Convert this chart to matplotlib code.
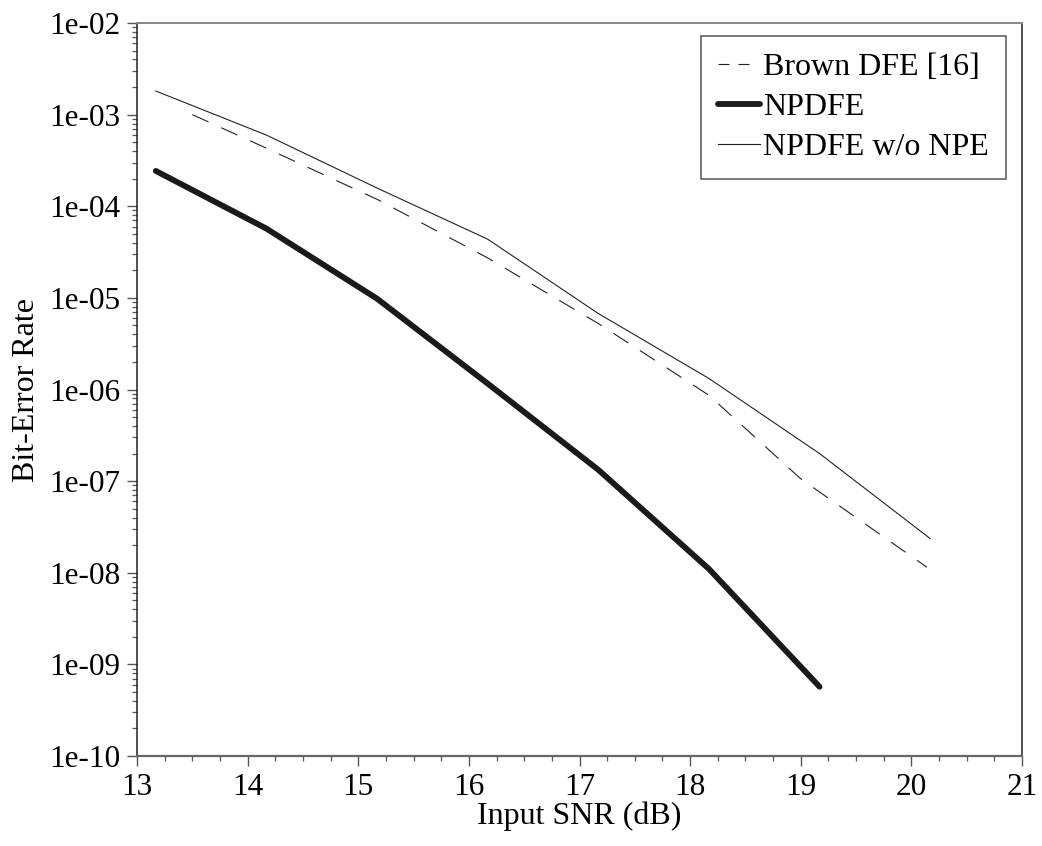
import matplotlib
matplotlib.use("Agg")
import matplotlib.pyplot as plt
from matplotlib.lines import Line2D
from matplotlib.ticker import MultipleLocator, LogLocator, FuncFormatter, NullFormatter

plt.rcParams['font.family'] = ['Liberation Serif', 'DejaVu Serif']
plt.rcParams['font.size'] = 23

# Input SNR (dB) and bit-error rate for each receiver
snr_brown = [13.5, 14.17, 15.17, 16.17, 17.17, 18.17, 19.0, 20.14]
ber_brown = [1.0e-3, 4.3e-4, 1.19e-4, 2.73e-5, 5.25e-6, 8.65e-7, 1.06e-7, 1.15e-8]

snr_npdfe = [13.17, 14.17, 15.17, 16.17, 17.17, 18.17, 19.17]
ber_npdfe = [2.43e-4, 5.7e-5, 9.8e-6, 1.16e-6, 1.33e-7, 1.1e-8, 5.7e-10]

snr_nonpe = [13.17, 14.17, 15.17, 16.17, 17.17, 18.17, 19.17, 20.17]
ber_nonpe = [1.81e-3, 5.98e-4, 1.58e-4, 4.37e-5, 6.75e-6, 1.32e-6, 2.0e-7, 2.36e-8]

labels = ["Brown DFE [16]", "NPDFE", "NPDFE w/o NPE"]
x_ticks = [13, 14, 15, 16, 17, 18, 19, 20, 21]
y_ticks = [1e-2, 1e-3, 1e-4, 1e-5, 1e-6, 1e-7, 1e-8, 1e-9, 1e-10]

W, H = 1042, 846
fig = plt.figure(figsize=(W / 100, H / 100), dpi=100)
ax = fig.add_axes([137 / W, 1 - 756 / H, (1022 - 137) / W, (756 - 23) / H])

ax.plot(snr_brown, ber_brown, color='#222222', lw=0.8, dashes=(16, 12.5))
ax.plot(snr_npdfe, ber_npdfe, color='#1a1a1a', lw=4.2, solid_capstyle='round',
        solid_joinstyle='round')
ax.plot(snr_nonpe, ber_nonpe, color='#222222', lw=0.8)

ax.set_yscale('log')
ax.set_xlim(13, 21)
ax.set_ylim(1e-10, 1e-2)
ax.set_xticks(x_ticks)
ax.set_yticks(y_ticks)
ax.xaxis.set_minor_locator(MultipleLocator(0.25))
ax.yaxis.set_minor_locator(LogLocator(base=10, subs=range(2, 10), numticks=20))
ax.yaxis.set_minor_formatter(NullFormatter())
ax.yaxis.set_major_formatter(FuncFormatter(lambda v, p: format(v, '.0e')))
ax.xaxis.set_major_formatter(FuncFormatter(lambda v, p: f"{v:.0f}"))

ax.tick_params(which='major', direction='out', length=7, width=1.0, color='#555555',
               labelsize=22.5, pad=5)
ax.tick_params(which='minor', direction='out', length=3.5, width=0.9, color='#555555')
ax.tick_params(top=False, right=False)

ax.spines['top'].set_color('#888888')
ax.spines['top'].set_linewidth(1.4)
ax.spines['bottom'].set_color('#666666')
ax.spines['bottom'].set_linewidth(1.6)
ax.spines['left'].set_color('#222222')
ax.spines['left'].set_linewidth(1.1)
ax.spines['right'].set_color('#222222')
ax.spines['right'].set_linewidth(1.1)

ax.set_xlabel("Input SNR (dB)", fontsize=23, labelpad=0)
ax.set_ylabel("Bit-Error Rate", fontsize=23, labelpad=6)

handles = [
    Line2D([], [], color='#222222', lw=0.8, dashes=(9.9, 8.1, 9.9, 18)),
    Line2D([], [], color='#1a1a1a', lw=4.2, solid_capstyle='round'),
    Line2D([], [], color='#222222', lw=0.8),
]
leg = ax.legend(handles, labels, loc='upper right',
                bbox_to_anchor=(1006 / W, 1 - 36 / H), bbox_transform=fig.transFigure,
                borderaxespad=0, fontsize=23, frameon=True, fancybox=False,
                handlelength=1.32, handletextpad=0.1, labelspacing=0.33,
                borderpad=0.53)
leg.get_frame().set_edgecolor('#555555')
leg.get_frame().set_linewidth(1.1)
leg.get_frame().set_alpha(1)

fig.savefig("out.png", dpi=100)
